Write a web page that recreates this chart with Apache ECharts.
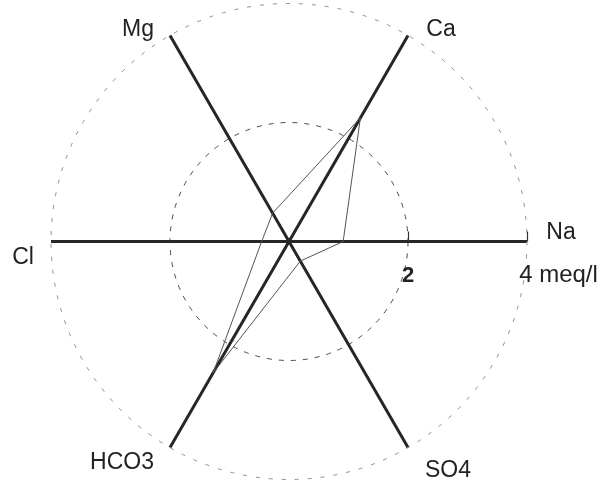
<!DOCTYPE html>
<html>
<head>
<meta charset="utf-8">
<script src="https://cdn.jsdelivr.net/npm/echarts@6/dist/echarts.min.js"></script>
<style>
  html, body { margin: 0; padding: 0; background: #fff; }
  #chart { width: 603px; height: 483px; }
</style>
</head>
<body>
<div id="chart"></div>
<script>
// Ions, one spoke each, counter-clockwise starting from the right
const ions = ['Na', 'Ca', 'Mg', 'Cl', 'HCO3', 'SO4'];
// Concentrations in meq/l, same order as the ions
const meq = [0.91, 2.40, 0.55, 0.46, 2.55, 0.38];
// Scale ticks along the Na spoke
const scaleTicks = [2, 4];
const scaleLabels = ['2', '4 meq/l'];

// Layout of the diagram
const CX = 289, CY = 241.5, R = 238;
const spoke = 360 / ions.length;
const FONT = "'Liberation Sans', Arial, sans-serif";

// Where each ion name sits, relative to the centre (px)
const nameOffset = {
  Na: [272, -9], Ca: [152, -212], Mg: [-151, -212],
  Cl: [-266, 16], HCO3: [-167, 221], SO4: [159, 229]
};

// Closed polygon through each spoke
const polygon = meq.map((v, i) => [v, i * spoke]);
polygon.push(polygon[0]);

const chart = echarts.init(document.getElementById('chart'), null, { renderer: 'canvas' });

chart.setOption({
  animation: false,
  backgroundColor: '#fff',
  polar: { center: [CX, CY], radius: R },
  angleAxis: {
    type: 'value', min: 0, max: 360, interval: spoke,
    startAngle: 0, clockwise: false,
    axisLine: { show: true, lineStyle: { color: '#8f8f8f', width: 1, type: [4, 9] } },
    axisTick: { show: false },
    axisLabel: { show: false },
    splitLine: { show: true, lineStyle: { color: '#262626', width: 3 } }
  },
  radiusAxis: {
    type: 'value', min: 0, max: 4, interval: 2,
    axisLine: { show: false },
    axisTick: {
      show: true, inside: true, length: 10, customValues: scaleTicks,
      lineStyle: { color: '#333', width: 1.2 }
    },
    axisLabel: {
      show: true, customValues: scaleTicks, margin: -34, verticalAlign: 'middle',
      formatter: v => {
        const i = scaleTicks.indexOf(v);
        if (i < 0) return '';
        return i === 0 ? '{b|' + scaleLabels[i] + '}' : '{u|' + scaleLabels[i] + '}';
      },
      rich: {
        b: { fontFamily: FONT, fontSize: 22, fontWeight: 'bold', color: '#222' },
        u: { fontFamily: FONT, fontSize: 24, color: '#222', padding: [0, 0, 0, 63] }
      }
    },
    splitLine: { show: true, lineStyle: { color: ['#4a4a4a', 'rgba(0,0,0,0)'], width: 1, type: [5, 7] } }
  },
  graphic: ions.map(name => ({
    type: 'text',
    x: CX + nameOffset[name][0],
    y: CY + nameOffset[name][1],
    silent: true,
    style: {
      text: name, font: '23px ' + FONT, fill: '#222',
      align: 'center', verticalAlign: 'middle'
    }
  })),
  series: [{
    type: 'line',
    coordinateSystem: 'polar',
    data: polygon,
    symbol: 'none',
    silent: true,
    lineStyle: { color: '#555', width: 1 }
  }]
});
</script>
</body>
</html>
